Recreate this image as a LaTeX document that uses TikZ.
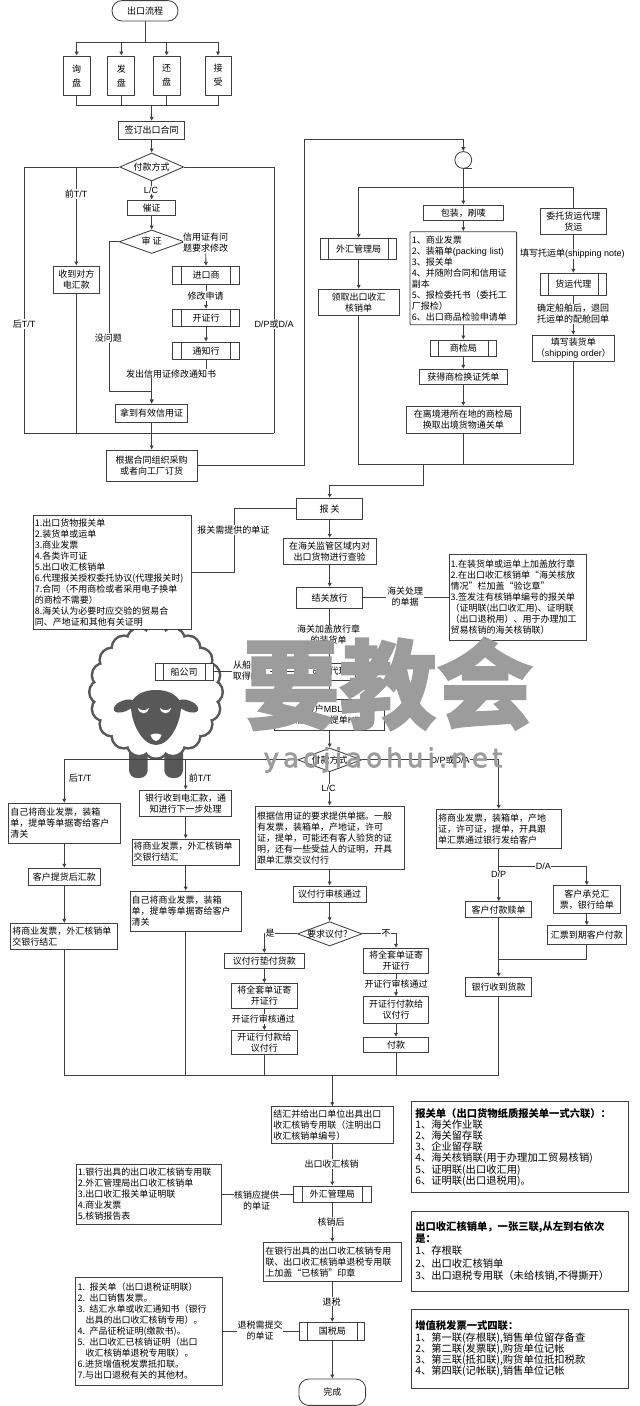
\documentclass[tikz,border=0pt]{standalone}
\usepackage{fontspec}
\setmainfont{Noto Sans CJK SC}
\newfontfamily\lat{Liberation Sans}
\newfontfamily\wmfont{DejaVu Sans}[LetterSpace=16,FakeBold=2.5]
\newfontfamily\wmcjk{Noto Sans CJK SC}[BoldFeatures={FakeBold=1.5}]
\usetikzlibrary{shapes.geometric,arrows.meta,calc}
\newcommand\lan[1]{{\lat #1}}
\definecolor{linec}{HTML}{3F3F3F}
\definecolor{sheepc}{HTML}{585858}
\definecolor{wmc}{HTML}{9C9C9C}
\pgfdeclarelayer{sheep}
\pgfdeclarelayer{lines}
\pgfsetlayers{sheep,lines,main}
\newcommand\nb[7]{\pgfmathsetmacro\hh{#5-#4}\pgfmathsetmacro\cy{(#4+#5)/2}%
  \node[#2,minimum width=#6pt,minimum height=\hh pt] (#1) at (#3,\cy) {#7};}
\newcommand\dtext[1]{\raisebox{-3.2pt}[0pt][0pt]{\makebox[0pt]{#1}}}
\tikzset{
  txt/.style={font=\fontsize{9}{11}\selectfont,align=center,text=black},
  box/.style={txt,draw=linec,fill=white,inner sep=0pt,line width=.85pt},
  lbox/.style={box,align=left,text width=#1pt},
  term/.style={box,rounded corners=10pt},
  dia/.style={box,diamond,shape aspect=#1},
  pp/.style={box,path picture={
    \draw[linec,line width=.8pt] ([xshift=#1pt]path picture bounding box.north west)--([xshift=#1pt]path picture bounding box.south west);
    \draw[linec,line width=.8pt] ([xshift=-#1pt]path picture bounding box.north east)--([xshift=-#1pt]path picture bounding box.south east);}},
  ln/.style={draw=linec,line width=.85pt},
  arr/.style={ln,-{Latex[length=4pt,width=4.4pt]}},
  lab/.style={txt,fill=white,inner sep=.6pt},
  plain/.style={txt,inner sep=.6pt},
  infobox/.style={box,align=left,text width=209pt,font=\fontsize{10.3}{11.2}\selectfont},
  sheepline/.style={draw=sheepc,line width=5pt},
}
\begin{document}
\begin{tikzpicture}[x=1pt,y=-1pt]
\begin{pgfonlayer}{sheep}
\fill[white] (0,0) rectangle (640,1406);
\useasboundingbox (0,0) rectangle (640,1406);
\fill[sheepc,rounded corners=8pt] (129,735) rectangle (147.7,778);
\fill[sheepc,rounded corners=8pt] (164.3,735) rectangle (183,778);
\foreach \a in {0,18,...,342} \draw[sheepline] ([shift={(156,692)}]\a:54.5) circle[radius=11pt];
\foreach \a in {0,18,...,342} \fill[white] ([shift={(156,692)}]\a:54.5) circle[radius=11pt];
\fill[white] (156,692) circle[radius=57pt];
\fill[sheepc,rotate around={22:(124,706)}] (124,706) ellipse[x radius=11pt,y radius=5.5pt];
\fill[sheepc,rotate around={-22:(188,706)}] (188,706) ellipse[x radius=11pt,y radius=5.5pt];
\fill[sheepc] (156,690) .. controls (143,690) and (135,695) .. (131,703) .. controls (130,722) and (142,745) .. (156,745) .. controls (170,745) and (182,722) .. (181,703) .. controls (177,695) and (169,690) .. (156,690) -- cycle;
\fill[white] (138,708) .. controls (139,715) and (148,715) .. (149,708) .. controls (146,711) and (141,711) .. (138,708) -- cycle;
\fill[white] (160,708) .. controls (161,715) and (170,715) .. (171,708) .. controls (168,711) and (163,711) .. (160,708) -- cycle;
\fill[white] (150.5,735) .. controls (154,733) and (158,733) .. (161.5,735) .. controls (160,739) and (158,741) .. (156,741) .. controls (154,741) and (152,739) .. (150.5,735) -- cycle;
\end{pgfonlayer}

% top section
\nb{start}{term}{145}{.6}{21}{66}{出口流程}
\nb{n1}{box}{76.7}{56}{95}{27}{询\\[3pt]盘}
\nb{n2}{box}{121.3}{56}{95}{27}{发\\[3pt]盘}
\nb{n3}{box}{166.7}{56}{95}{27}{还\\[3pt]盘}
\nb{n4}{box}{218}{56}{95}{26}{接\\[3pt]受}
\nb{sign}{box}{151.7}{121.3}{139.7}{65.6}{签订出口合同}
\nb{dia1}{dia=2.3}{151.7}{153}{181}{64}{\dtext{付款方式}}
\nb{urge}{box}{151.7}{200}{215.7}{47.7}{催证}
\nb{dia2}{dia=2.77}{151.7}{230}{253.5}{65}{\dtext{审 证}}
\nb{imp}{pp=8.5}{206}{266.3}{284.3}{66.4}{进口商}
\nb{open}{pp=8.5}{206}{309.3}{326.3}{66.4}{开证行}
\nb{notify}{pp=8.5}{206}{342}{359.3}{66.4}{通知行}
\nb{have}{box}{151.7}{404}{422}{72.3}{拿到有效信用证}
\nb{recv}{box}{76.3}{266}{293.3}{46}{收到对方\\电汇款}
\nb{plan}{box}{151.7}{450}{481}{90.6}{根据合同组织采购\\或者向工厂订货}
% upper right
\node[box,circle,minimum size=16.8pt] (circ) at (463.3,160) {};
\nb{pack}{box}{463.3}{205}{220.7}{79.4}{包装，刷唛}
\nb{papers}{lbox=103,rounded corners=1pt}{463.3}{231.7}{324.7}{106.7}{1、商业发票\\2、装箱单\lan{(packing list)}\\3、报关单\\4、并随附合同和信用证\\副本\\5、报检委托书（委托工\\厂报检）\\6、出口商品检验申请单}
\nb{fx}{pp=8.3}{358.7}{238.3}{259}{76.3}{外汇管理局}
\nb{collect}{box}{358.7}{289.3}{315.7}{81}{领取出口收汇\\核销单}
\nb{wt}{box}{573.3}{208}{234.3}{65.7}{委托货运代理\\货运}
\nb{wagent}{pp=8}{573.3}{273.3}{295}{65.7}{货运代理}
\nb{order}{box}{573.3}{335.3}{361}{82.6}{填写装货单\\（\lan{shipping order}）}
\nb{ciq}{pp=7.3}{463.3}{340}{356}{65.3}{商检局}
\nb{cert}{box}{463.3}{369.3}{384.7}{88.3}{获得商检换证凭单}
\nb{exch}{box}{463.3}{406.3}{433}{114.6}{在离境港所在地的商检局\\换取出境货物通关单}
% customs
\nb{bg}{box}{329.7}{498.3}{519.3}{65.6}{报 关}
\nb{docs}{lbox=155}{112.3}{515.3}{629}{158.7}{1.出口货物报关单\\2.装货单或运单\\3.商业发票\\4.各类许可证\\5.出口收汇核销单\\6.代理报关授权委托协议(代理报关时)\\7.合同（不用商检或者采用电子换单\\的商检不需要）\\8.海关认为必要时应交验的贸易合\\同、产地证和其他有关证明}
\nb{check}{box}{329.7}{538.3}{564}{93.3}{在海关监管区域内对\\出口货物进行查验}
\nb{clear}{box}{329.7}{587.3}{608.3}{65.6}{结关放行}
\nb{note}{lbox=134}{517.7}{554.3}{640.7}{137.3}{1.在装货单或运单上加盖放行章\\2.在出口收汇核销单“海关核放\\情况”栏加盖“验讫章”\\3.签发注有核销单编号的报关单\\（证明联(出口收汇用)、证明联\\（出口退税用）、用于办理加工\\贸易核销的海关核销联）}
\nb{co}{pp=8.3}{184.2}{663}{680.7}{58.3}{船公司}
\nb{fwd}{pp=7.5}{329.7}{663}{680}{65.6}{货运代理}
\nb{mbl}{box}{329.7}{699}{730.7}{110}{给客户\lan{MBL/HBL}\\箱单、分提单\lan{HBL}}
\nb{dia3}{dia=2.7}{329.7}{748}{771.7}{64}{\dtext{付款方式}}
% four payment columns
\nb{hq}{lbox=108}{64.3}{803.3}{843.3}{111.3}{自己将商业发票，装箱\\单，提单等单据寄给客户\\清关}
\nb{cpay}{box}{64.3}{868.3}{885.7}{72.4}{客户提货后汇款}
\nb{hq2}{lbox=104}{64.3}{923.3}{949.3}{107}{将商业发票，外汇核销单\\交银行结汇}
\nb{bank}{box}{185.7}{790}{816.7}{92.3}{银行收到电汇款，通\\知进行下一步处理}
\nb{inv}{lbox=104}{185.7}{839}{865}{107.4}{将商业发票，外汇核销单\\交银行结汇}
\nb{self}{lbox=108}{185.7}{891}{931.3}{111.4}{自己将商业发票，装箱\\单，提单等单据寄给客户\\清关}
\nb{lc}{lbox=145}{329.7}{806}{869.3}{148.7}{根据信用证的要求提供单据。一般\\有发票，装箱单，产地证，许可\\证，提单，可能还有客人验货的证\\明，还有一些受益人的证明，开具\\跟单汇票交议付行}
\nb{pass}{box}{329.7}{886}{902.7}{73.3}{议付行审核通过}
\nb{dia4}{dia=2.65}{329.7}{921.7}{946}{64.4}{\dtext{要求议付？}}
\nb{yes}{box}{264.3}{953.3}{968.7}{79.7}{议付行垫付货款}
\nb{send1}{box}{264.3}{983.3}{1008.3}{65.7}{将全套单证寄\\开证行}
\nb{pay1}{box}{264.3}{1030.7}{1054}{65.7}{开证行付款给\\议付行}
\nb{no}{box}{396}{948.3}{973.3}{65.7}{将全套单证寄\\开证行}
\nb{pay2}{box}{396}{996.7}{1023.3}{65.7}{开证行付款给\\议付行}
\nb{final}{box}{396}{1037.3}{1052.7}{65.7}{付款}
\nb{dp}{lbox=121}{498.7}{809.3}{848.3}{124.7}{将商业发票，装箱单，产地\\证，许可证，提单，开具跟\\单汇票通过银行发给客户}
\nb{acc}{box}{586.8}{885.7}{913.3}{66.3}{客户承兑汇\\票，银行给单}
\nb{due}{box}{586.8}{925.7}{944.3}{79.4}{汇票到期客户付款}
\nb{cb}{box}{498.7}{901.7}{917.7}{66.4}{客户付款赎单}
\nb{bk}{box}{498.7}{977.3}{996.7}{66.4}{银行收到货款}
% bottom section
\nb{settle}{lbox=118}{332.3}{1106.7}{1143.3}{121.4}{结汇并给出口单位出具出口\\收汇核销专用联（注明出口\\收汇核销单编号）}
\nb{fx2}{pp=8.7}{332.3}{1186}{1202.7}{77.7}{外汇管理局}
\nb{stamp}{lbox=134}{332.3}{1242.3}{1281}{137.4}{在银行出具的出口收汇核销专用\\联、出口收汇核销单退税专用联\\上加盖“已核销”印章}
\nb{tax}{pp=7.5}{332.3}{1322.3}{1340}{65}{国税局}
\nb{done}{term}{332.3}{1379}{1405.4}{66.7}{完成}
\nb{docs1}{lbox=142}{148.8}{1164.3}{1224}{145.7}{1.银行出具的出口收汇核销专用联\\2.外汇管理局出口收汇核销单\\3.出口收汇报关单证明联\\4.商业发票\\5.核销报告表}
\nb{docs2}{lbox=143}{149.2}{1277.3}{1385}{147}{1. 报关单（出口退税证明联）\\2. 出口销售发票。\\3. 结汇水单或收汇通知书（银行\\\hspace*{8pt}出具的出口收汇核销专用）。\\4. 产品征税证明(缴款书)。\\5. 出口收汇已核销证明（出口\\\hspace*{8pt}收汇核销单退税专用联）。\\6.进货增值税发票抵扣联。\\7.与出口退税有关的其他材。}
\nb{infoa}{infobox}{519.8}{1101.7}{1192.7}{216.3}{\textbf{报关单（出口货物纸质报关单一式六联）：}\\1、海关作业联\\2、海关留存联\\3、企业留存联\\4、海关核销联(用于办理加工贸易核销)\\5、证明联(出口收汇用)\\6、证明联(出口退税用)。}
\nb{infob}{infobox}{519.8}{1211.7}{1291}{216.3}{\textbf{出口收汇核销单，一张三联,从左到右依次}\\[1pt]\textbf{是：}\\[1pt]1、存根联\\[1pt]2、出口收汇核销单\\[1pt]3、出口退税专用联（未给核销,不得撕开）}
\nb{infoc}{infobox}{519.8}{1309.3}{1388.3}{216.3}{\textbf{增值税发票一式四联：}\\1、第一联(存根联),销售单位留存备查\\2、第二联(发票联),购货单位记帐\\3、第三联(抵扣联),购货单位抵扣税款\\4、第四联(记帐联),销售单位记帐}

% labels
\node[plain] (lpre) at (76,194) [fill=white] {前\lan{T/T}};
\node[lab] (llc) at (151,190) {\lan{L/C}};
\node[lab] (lrev) at (205.7,243) {信用证有问\\题要求修改};
\node[lab] (lmod) at (205.5,296) {修改申请};
\node[lab] (lsend) at (171,373.7) {发出信用证修改通知书};
\node[lab] (lpost) at (24,324) {后\lan{T/T}};
\node[lab] (ldp) at (274,324) {\lan{D/P}或\lan{D/A}};
\node[lab] (lnop) at (108.3,338) {没问题};
\node[lab] (lnote) at (572.3,254) {填写托运单\lan{(shipping note)}};
\node[lab] (lconf) at (573,314) {确定船舶后，退回\\托运单的配舱回单};
\node[lab] (lneed) at (233.3,530) {报关需提供的单证};
\node[lab] (lhand) at (405,597) {海关处理\\的单据};
\node[lab] (lstamp) at (328.7,635) {海关加盖放行章\\的装货单};
\node[lab] (lmblx) at (251,671) {从船公司\\取得\lan{MBL}};
\node[plain] (lpost2) at (80,778) {后\lan{T/T}};
\node[plain] (lpre2) at (200,778) {前\lan{T/T}};
\node[lab] (ldp2) at (450,760) {\lan{D/P}或\lan{D/A}};
\node[lab] (llc2) at (328.5,788) {\lan{L/C}};
\node[lab] (lyes) at (270,933.5) {是};
\node[lab] (lno) at (386,933.5) {不};
\node[lab] (lopen1) at (263.3,1018.7) {开证行审核通过};
\node[lab] (lopen2) at (396,984) {开证行审核通过};
\node[lab] (lda) at (543.3,866.7) {\lan{D/A}};
\node[lab] (ldp3) at (498.7,874.7) {\lan{D/P}};
\node[lab] (lfxs) at (331.7,1164) {出口收汇核销};
\node[lab] (laft) at (331,1222) {核销后};
\node[lab] (ltui) at (331.7,1301.7) {退税};
\node[lab] (lver) at (256.7,1201) {核销应提供\\的单证};
\node[lab] (lret) at (260,1331) {退税需提交\\的单证};

% junctions
\coordinate (jt) at (145,42.7);
\coordinate (jb) at (151.7,105);
\coordinate (jbar) at (151.7,433.3);
\coordinate (jbl) at (24,433.3);
\coordinate (jbr) at (274,433.3);
\coordinate (jpre) at (76.3,167);
\coordinate (jnop) at (109,391.7);
\coordinate (jsend) at (151.7,373.7);
\coordinate (jup) at (304.3,139.3);
\coordinate (jsp) at (463.3,187.3);
\coordinate (jm) at (423.7,464.3);
\coordinate (jm2) at (329.7,485.7);
\coordinate (jdoc) at (234.3,572.15);
\coordinate (jbk) at (185.7,759.3);
\coordinate (jda) at (498.7,866.7);
\coordinate (jdue) at (498.7,959);
\coordinate (jl) at (64.3,1075);
\coordinate (jr) at (498.7,1075);
\coordinate (jc) at (332.3,1075);

\begin{pgfonlayer}{lines}
\draw[ln] (start.south)--(jt);
\foreach \n in {n1,n2,n3,n4} {
  \draw[arr] (jt) -| (\n.north);
  \draw[ln] (\n.south) |- (jb);
}
\draw[arr] (jb)--(sign.north);
\draw[arr] (sign.south)--(dia1.north);
\draw[ln] (dia1.west) -| (jbl);
\draw[ln] (dia1.east) -| (jbr);
\draw[ln] (jbl)--(jbr);
\draw[arr] (dia1.south)--(urge.north);
\draw[arr] (urge.south)--(dia2.north);
\draw[arr] (jpre)--(recv.north);
\draw[ln] (recv.south)--(recv.south |- jbar);
\draw[arr] (dia2.west) -| (jnop) -- (have.north |- jnop) -- (have.north);
\draw[ln] (dia2.east)--(lrev.west);
\draw[arr] (lrev.south)--(imp.north);
\draw[arr] (imp.south)--(open.north);
\draw[arr] (open.south)--(notify.north);
\draw[arr] (notify.south) |- (jsend) -- (have.north);
\draw[ln] (have.south)--(jbar);
\draw[arr] (jbar)--(plan.north);
\draw[arr] (plan.east) -| (jup) -| (circ.north);
\draw[ln] (circ.south)--([xshift=9pt]circ.south);
\draw[ln] (circ.south)--(jsp);
\draw[arr] (jsp)--(pack.north);
\draw[arr] (jsp) -| (fx.north);
\draw[ln] (jsp) -| (wt.north);
\draw[arr] (pack.south)--(papers.north);
\draw[arr] (papers.south)--(ciq.north);
\draw[arr] (ciq.south)--(cert.north);
\draw[arr] (cert.south)--(exch.north);
\draw[arr] (fx.south)--(collect.north);
\draw[arr] (wt.south)--(wagent.north);
\draw[arr] (wagent.south)--(order.north);
\draw[ln] (collect.south) |- (jm);
\draw[ln] (order.south) |- (jm);
\draw[ln] (exch.south)--(exch.south |- jm);
\draw[arr] (jm) |- (jm2) -- (bg.north);
\draw[ln] (bg.west) -| (jdoc) -- (docs.east);
\draw[arr] (bg.south)--(check.north);
\draw[arr] (check.south)--(clear.north);
\draw[ln] (clear.east)--(clear.east -| note.west);
\draw[arr] (clear.south)--(fwd.north);
\draw[ln] (co.east)--(co.east -| fwd.west);
\draw[arr] (fwd.south)--(mbl.north);
\draw[arr] (mbl.south)--(dia3.north);
\draw[arr] (dia3.west) -| (hq.north);
\draw[arr] (jbk)--(bank.north);
\draw[arr] (dia3.east) -| (dp.north);
\draw[arr] (dia3.south)--(lc.north);
\draw[arr] (hq.south)--(cpay.north);
\draw[arr] (cpay.south)--(hq2.north);
\draw[ln] (hq2.south)--(jl);
\draw[arr] (bank.south)--(inv.north);
\draw[arr] (inv.south)--(self.north);
\draw[ln] (self.south)--(self.south |- jl);
\draw[arr] (lc.south)--(pass.north);
\draw[arr] (pass.south)--(dia4.north);
\draw[arr] (dia4.west) -| (yes.north);
\draw[arr] (yes.south)--(send1.north);
\draw[arr] (send1.south)--(pay1.north);
\draw[ln] (pay1.south)--(pay1.south |- jl);
\draw[arr] (dia4.east) -| (no.north);
\draw[arr] (no.south)--(pay2.north);
\draw[arr] (pay2.south)--(final.north);
\draw[ln] (final.south)--(final.south |- jl);
\draw[arr] (dp.south)--(cb.north);
\draw[arr] (jda) -| (acc.north);
\draw[arr] (acc.south)--(due.north);
\draw[ln] (due.south) |- (jdue);
\draw[arr] (cb.south)--(bk.north);
\draw[ln] (bk.south)--(jr);
\draw[ln] (jl)--(jr);
\draw[arr] (jc)--(settle.north);
\draw[arr] (settle.south)--(fx2.north);
\draw[arr] (fx2.south)--(stamp.north);
\draw[arr] (stamp.south)--(tax.north);
\draw[arr] (tax.south)--(done.north);
\draw[ln] (docs1.east)--(docs1.east -| fx2.west);
\draw[ln] (docs2.east)--(docs2.east -| tax.west);
\end{pgfonlayer}

% watermark
\node[text=wmc,inner sep=0pt,font=\wmcjk\fontsize{97}{100}\selectfont\bfseries] (wm) at (388,684) {要教会};
\node[text=wmc,inner sep=0pt,font=\wmfont\fontsize{26}{28}\selectfont] (wm2) at (383,760) {yaojiaohui.net};
\end{tikzpicture}
\end{document}
